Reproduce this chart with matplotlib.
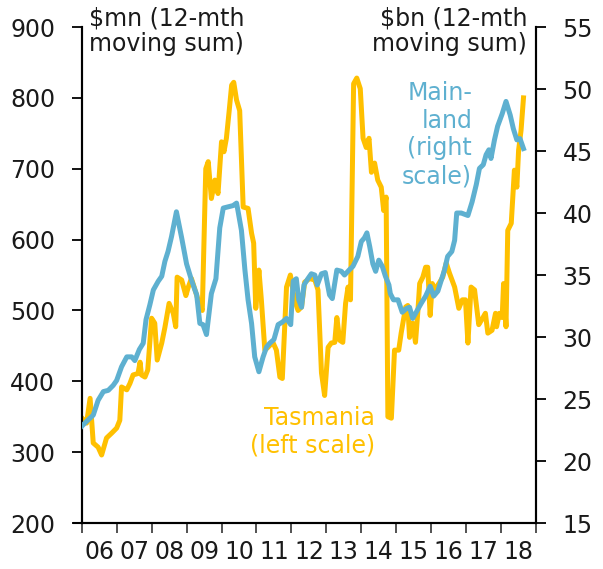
import numpy as np
import matplotlib
matplotlib.use('Agg')
import matplotlib.pyplot as plt
from matplotlib.ticker import MultipleLocator, FixedLocator, NullFormatter

# Tasmania, $mn (left scale) - decimal year, value
tas_year = [2006.01, 2006.14, 2006.24, 2006.33, 2006.47, 2006.57, 2006.71, 2006.86, 2007.00, 2007.09,
            2007.14, 2007.29, 2007.38, 2007.47, 2007.61, 2007.67, 2007.71, 2007.81, 2007.89, 2008.00,
            2008.09, 2008.16, 2008.29, 2008.38, 2008.50, 2008.62, 2008.69, 2008.73, 2008.86, 2008.98,
            2009.05, 2009.14, 2009.24, 2009.38, 2009.45, 2009.55, 2009.62, 2009.71, 2009.81, 2009.90,
            2010.00, 2010.07, 2010.14, 2010.22, 2010.29, 2010.35, 2010.43, 2010.52, 2010.62, 2010.76,
            2010.86, 2010.92, 2010.98, 2011.07, 2011.14, 2011.24, 2011.33, 2011.47, 2011.57, 2011.67,
            2011.74, 2011.86, 2011.97, 2012.09, 2012.19, 2012.29, 2012.38, 2012.52, 2012.67, 2012.76,
            2012.86, 2012.95, 2013.05, 2013.14, 2013.24, 2013.30, 2013.38, 2013.47, 2013.55, 2013.62,
            2013.69, 2013.78, 2013.87, 2013.97, 2014.05, 2014.14, 2014.22, 2014.29, 2014.38, 2014.47,
            2014.57, 2014.64, 2014.71, 2014.76, 2014.86, 2014.95, 2015.07, 2015.14, 2015.27, 2015.33,
            2015.38, 2015.47, 2015.55, 2015.62, 2015.67, 2015.76, 2015.84, 2015.90, 2015.97, 2016.03,
            2016.09, 2016.22, 2016.33, 2016.43, 2016.52, 2016.67, 2016.79, 2016.89, 2016.98, 2017.05,
            2017.14, 2017.24, 2017.36, 2017.47, 2017.55, 2017.62, 2017.74, 2017.84, 2017.87, 2017.95,
            2018.03, 2018.07, 2018.14, 2018.19, 2018.29, 2018.38, 2018.45, 2018.50, 2018.57, 2018.64]
tas_val = [348, 341, 376, 313, 307, 296, 320, 327, 334, 345,
           392, 388, 397, 409, 411, 427, 409, 406, 416, 489,
           482, 430, 454, 476, 510, 496, 477, 547, 543, 521,
           533, 545, 529, 507, 500, 700, 710, 658, 684, 665,
           738, 724, 743, 782, 818, 822, 797, 782, 646, 644,
           609, 595, 503, 557, 515, 444, 448, 455, 444, 406,
           404, 533, 550, 515, 500, 505, 540, 545, 543, 529,
           412, 380, 448, 454, 455, 490, 458, 455, 510, 533,
           515, 820, 828, 813, 743, 730, 743, 695, 708, 684,
           674, 641, 660, 350, 348, 444, 444, 468, 505, 507,
           462, 482, 455, 500, 538, 547, 561, 561, 493, 538,
           529, 538, 547, 567, 553, 533, 503, 515, 515, 454,
           533, 529, 480, 489, 496, 468, 472, 496, 477, 496,
           490, 538, 477, 613, 623, 698, 674, 726, 754, 800]

# Mainland, $bn (right scale)
main_year = [2006.00, 2006.14, 2006.33, 2006.47, 2006.62, 2006.76, 2006.90, 2007.00, 2007.14, 2007.29,
             2007.43, 2007.52, 2007.65, 2007.76, 2007.84, 2007.95, 2008.05, 2008.19, 2008.29, 2008.38,
             2008.47, 2008.57, 2008.71, 2008.86, 2009.00, 2009.14, 2009.29, 2009.38, 2009.47, 2009.57,
             2009.71, 2009.84, 2009.95, 2010.05, 2010.19, 2010.33, 2010.43, 2010.47, 2010.57, 2010.67,
             2010.76, 2010.86, 2010.95, 2011.07, 2011.19, 2011.29, 2011.38, 2011.50, 2011.62, 2011.74,
             2011.86, 2011.98, 2012.05, 2012.14, 2012.21, 2012.29, 2012.36, 2012.47, 2012.57, 2012.67,
             2012.74, 2012.86, 2012.97, 2013.09, 2013.17, 2013.30, 2013.43, 2013.52, 2013.65, 2013.76,
             2013.90, 2014.00, 2014.09, 2014.16, 2014.24, 2014.33, 2014.41, 2014.50, 2014.60, 2014.69,
             2014.79, 2014.83, 2014.92, 2015.05, 2015.17, 2015.29, 2015.38, 2015.47, 2015.57, 2015.71,
             2015.84, 2015.97, 2016.07, 2016.19, 2016.29, 2016.38, 2016.47, 2016.59, 2016.67, 2016.73,
             2016.86, 2017.05, 2017.17, 2017.29, 2017.38, 2017.49, 2017.57, 2017.65, 2017.71, 2017.81,
             2017.90, 2018.03, 2018.14, 2018.26, 2018.35, 2018.45, 2018.54, 2018.64]
main_val = [22.8, 23.2, 23.7, 24.9, 25.6, 25.7, 26.1, 26.5, 27.6, 28.4,
            28.4, 28.1, 29.0, 29.5, 31.4, 32.6, 33.8, 34.5, 34.9, 36.1,
            36.9, 38.1, 40.1, 38.0, 35.9, 34.6, 33.4, 31.1, 31.0, 30.2,
            33.5, 34.7, 38.8, 40.4, 40.5, 40.6, 40.8, 40.2, 38.6, 35.4,
            33.0, 31.1, 28.4, 27.2, 28.4, 29.2, 29.5, 29.8, 31.0, 31.2,
            31.5, 31.0, 34.5, 34.7, 33.0, 32.4, 34.2, 34.7, 35.1, 35.0,
            34.2, 35.1, 35.2, 33.4, 33.1, 35.4, 35.3, 35.0, 35.4, 35.7,
            36.5, 37.7, 38.0, 38.4, 37.3, 35.9, 35.3, 36.2, 35.7, 34.9,
            34.2, 33.5, 33.0, 33.0, 32.0, 32.3, 32.4, 31.5, 32.0, 32.7,
            33.3, 34.1, 33.3, 33.7, 34.6, 35.4, 36.5, 36.9, 37.8, 40.0,
            40.0, 39.8, 40.9, 42.3, 43.6, 43.9, 44.7, 45.1, 44.4, 45.9,
            47.0, 48.0, 49.0, 47.9, 46.8, 45.9, 46.0, 45.2]

year_labels = ['06', '07', '08', '09', '10', '11', '12', '13', '14', '15', '16', '17', '18']

yellow = '#FFC000'
blue = '#5EB0D0'
txt = '#1a1a1a'
fs = 17

plt.rcParams['font.family'] = ['DejaVu Sans']

fig = plt.figure(figsize=(6.03, 5.69), dpi=100)
ax = fig.add_axes([0.1355, 0.0808, 0.7535, 0.8717])
ax2 = ax.twinx()

ax.plot(tas_year, tas_val, color=yellow, lw=3.6, solid_joinstyle='round', zorder=2)
ax2.plot(main_year, main_val, color=blue, lw=3.6, solid_joinstyle='round', zorder=3)

ax.set_xlim(2006, 2019)
ax.set_ylim(200, 900)
ax2.set_ylim(15, 55)
ax.yaxis.set_major_locator(MultipleLocator(100))
ax2.yaxis.set_major_locator(MultipleLocator(5))

# year ticks at boundaries, labels centred in each year
ax.xaxis.set_major_locator(FixedLocator(np.arange(2006, 2020)))
ax.xaxis.set_major_formatter(NullFormatter())
ax.xaxis.set_minor_locator(FixedLocator(np.arange(2006, 2019) + 0.5))
ax.set_xticklabels(year_labels, minor=True)
ax.tick_params(axis='x', which='minor', length=0, pad=12, labelsize=fs, labelcolor=txt)
ax.tick_params(axis='x', which='major', length=7, width=1.3, color='#444444')
ax.tick_params(axis='y', length=7, width=1.3, color='black', labelsize=fs, labelcolor=txt, pad=12)
ax2.tick_params(axis='y', length=7, width=1.3, color='black', labelsize=fs, labelcolor=txt, pad=12)

for a in (ax, ax2):
    a.spines['top'].set_visible(False)
    for s in ('left', 'right', 'bottom'):
        a.spines[s].set_linewidth(1.5)
        a.spines[s].set_color('black')
# bottom axis line runs a little past the left spine
ax.plot([-0.018, 0], [0, 0], transform=ax.transAxes, color='black', lw=1.5, clip_on=False)

fig.text(0.148, 0.988, '\\$mn (12-mth\nmoving sum)', ha='left', va='top', fontsize=fs, color=txt, linespacing=1.05)
fig.text(0.874, 0.988, '\\$bn (12-mth\nmoving sum)', ha='right', va='top', fontsize=fs, color=txt,
         linespacing=1.05, multialignment='right')
fig.text(0.783, 0.858, 'Main-\nland\n(right\nscale)', ha='right', va='top', fontsize=fs, color=blue,
         linespacing=1.2, multialignment='right')
fig.text(0.622, 0.2865, 'Tasmania\n(left scale)', ha='right', va='top', fontsize=fs, color=yellow,
         linespacing=1.2, multialignment='right')

fig.savefig('out.png', dpi=100)
